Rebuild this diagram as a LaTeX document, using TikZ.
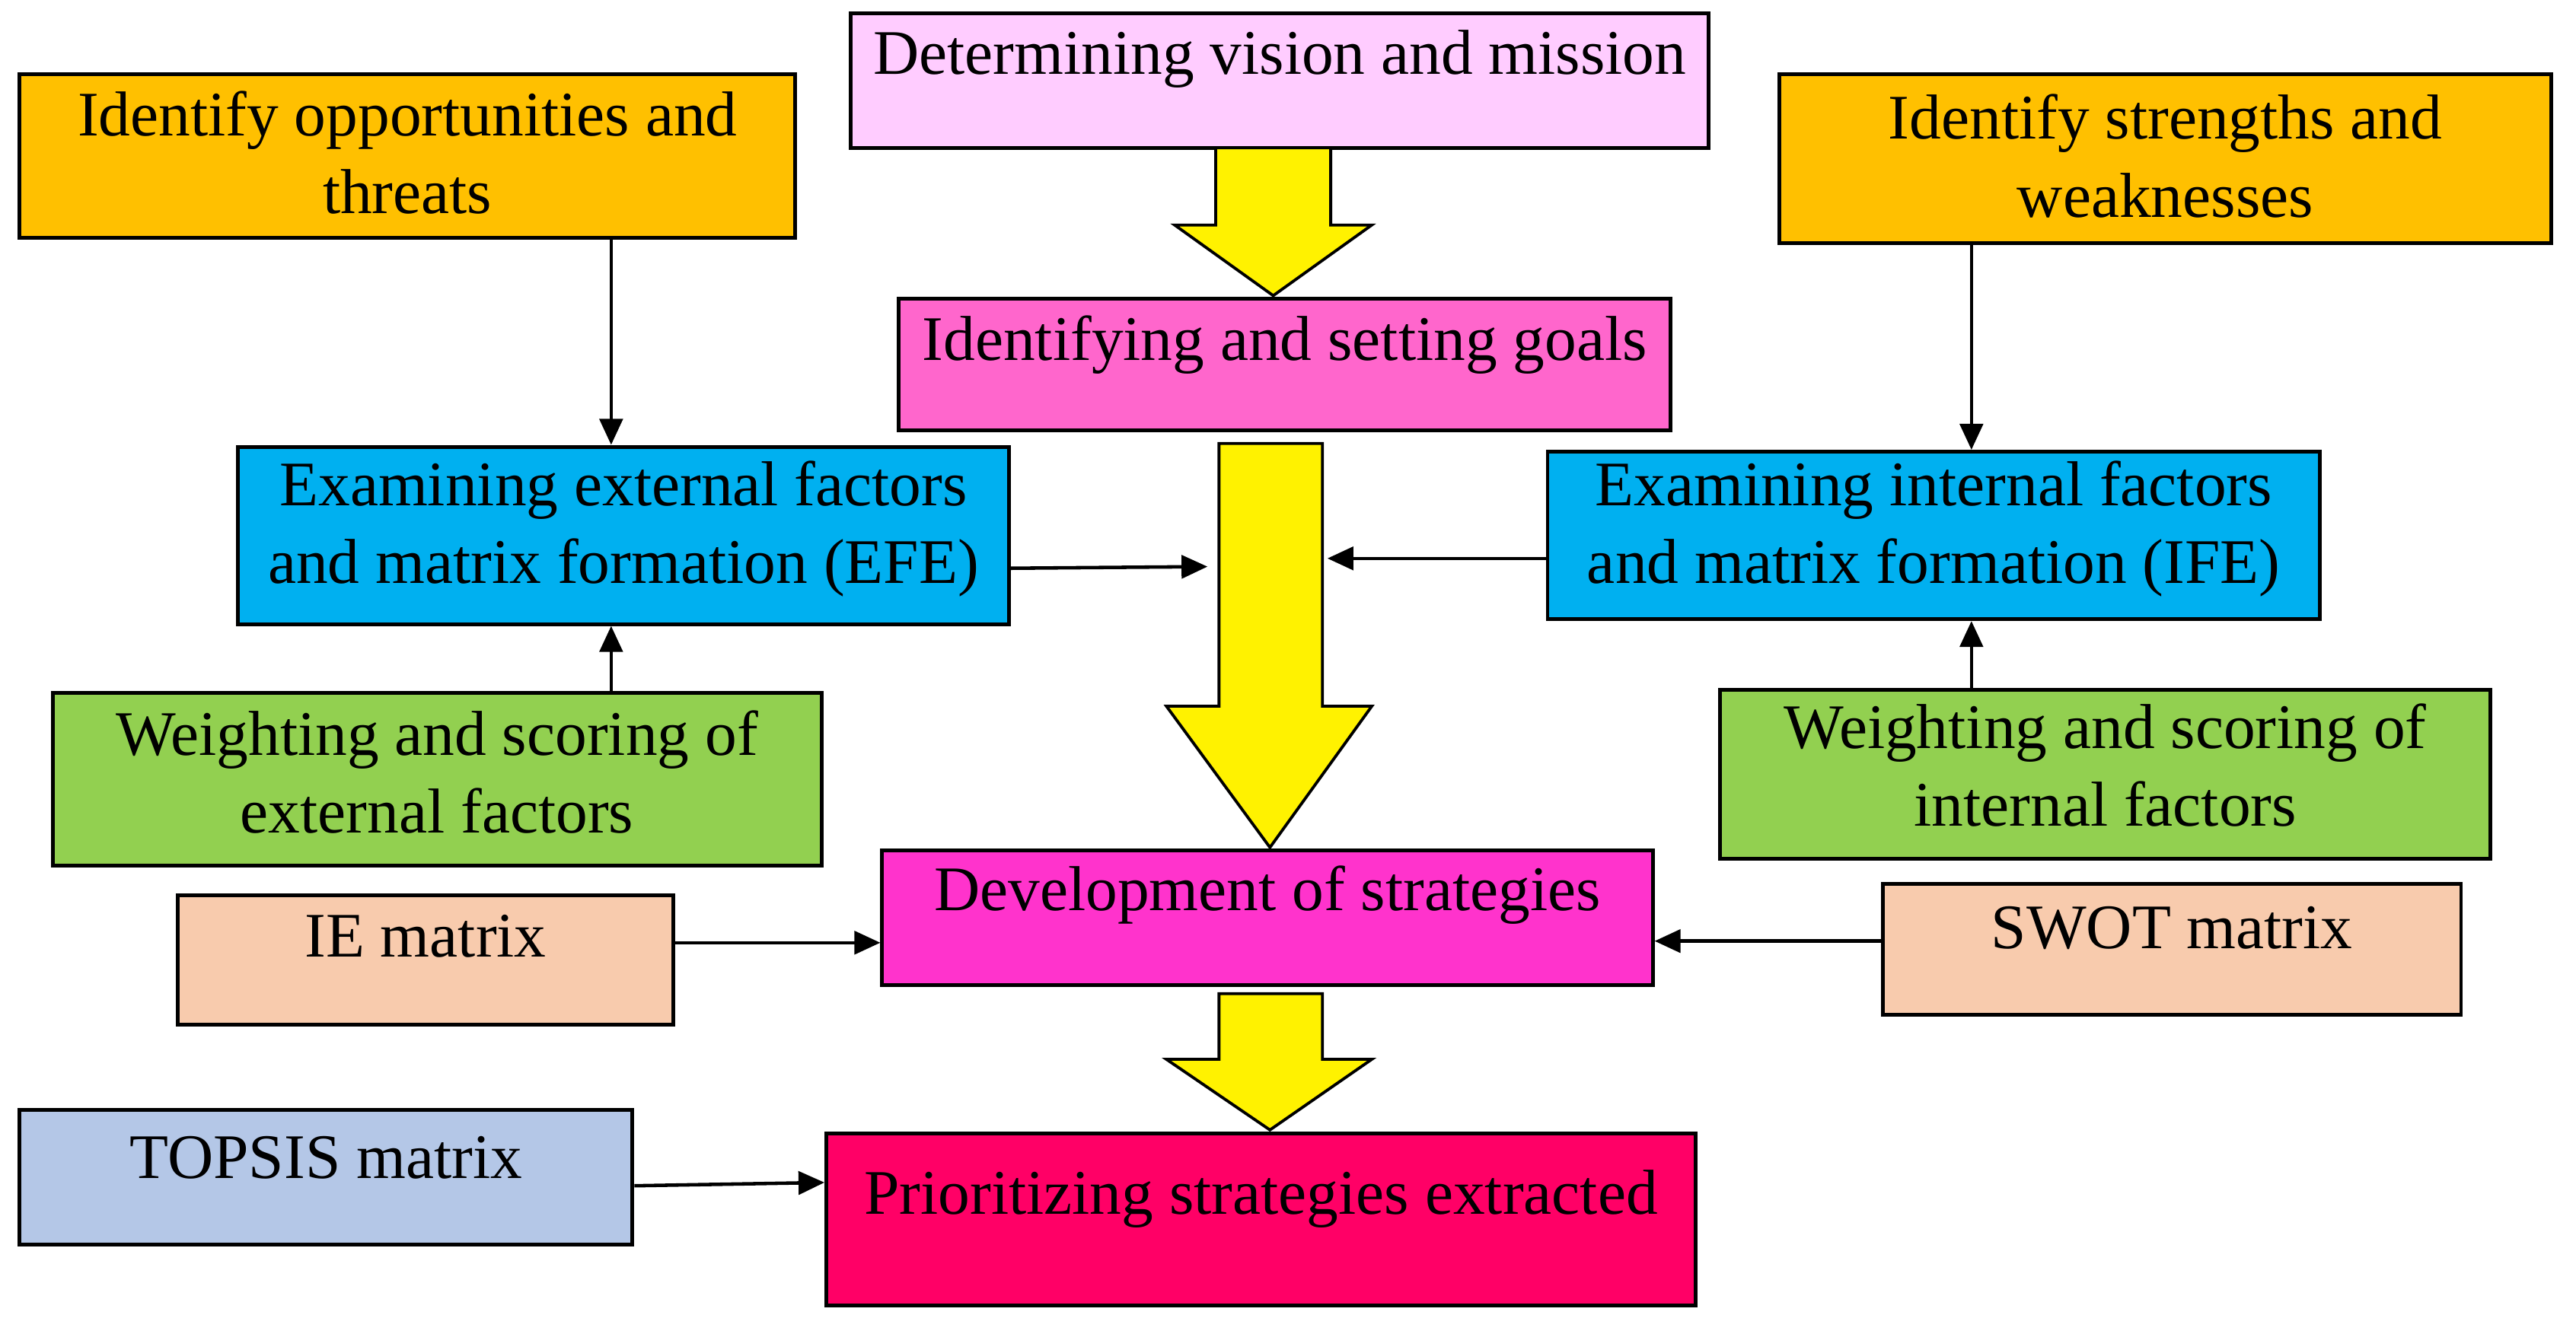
\documentclass[tikz,border=0pt]{standalone}
\usepackage{fontspec}
\setmainfont{Liberation Serif}
\usetikzlibrary{arrows.meta}
\begin{document}
\begin{tikzpicture}[x=0.02cm,y=-0.02cm,
  box/.style={draw,line width=1.3pt,inner sep=0pt},
  txt/.style={align=center,font=\fontsize{22}{27}\selectfont,inner sep=0pt},
  conn/.style={line width=1.2pt,-{Triangle[length=9pt,width=8pt]}},
  yarrow/.style={draw,line width=1pt,fill=yellow}]
\definecolor{cvis}{HTML}{FFCCFF}
\definecolor{corg}{HTML}{FFC000}
\definecolor{cgoal}{HTML}{FF66CC}
\definecolor{cblue}{HTML}{00B0F0}
\definecolor{cgreen}{HTML}{92D050}
\definecolor{cdev}{HTML}{FF33CC}
\definecolor{cpeach}{HTML}{F8CBAD}
\definecolor{ctop}{HTML}{B4C7E7}
\definecolor{cprio}{HTML}{FF0066}
\useasboundingbox (0,0) rectangle (1568,812);
\newcommand{\bx}[8]{\node[box,fill=#6,minimum width={(#3-#1)*0.02cm},minimum height={(#4-#2)*0.02cm}] (#5) at ({(#1+#3)/2},{(#2+#4)/2}) {};
  \node[txt] (#5t) at ({(#1+#3)/2},#8) {#7};}
\bx{518}{8}{1040}{90}{vis}{cvis}{Determining vision and mission}{36}
\bx{12}{45}{484}{145}{opp}{corg}{Identify opportunities and\\threats}{93}
\bx{1083}{45}{1553}{148}{str}{corg}{Identify strengths and\\weaknesses}{95}
\bx{547}{182}{1017}{262}{goal}{cgoal}{Identifying and setting goals}{210}
\bx{145}{272}{614}{380}{efe}{cblue}{Examining external factors\\and matrix formation (EFE)}{322}
\bx{942}{275}{1412}{377}{ife}{cblue}{Examining internal factors\\and matrix formation (IFE)}{322}
\bx{32}{422}{500}{527}{wext}{cgreen}{Weighting and scoring of\\external factors}{470}
\bx{1047}{420}{1516}{523}{wint}{cgreen}{Weighting and scoring of\\internal factors}{466}
\bx{537}{518}{1006}{600}{dev}{cdev}{Development of strategies}{545}
\bx{108}{545}{410}{624}{ie}{cpeach}{IE matrix}{570}
\bx{1146}{538}{1498}{618}{swot}{cpeach}{SWOT matrix}{565}
\bx{12}{676}{385}{758}{top}{ctop}{TOPSIS matrix}{705}
\bx{503}{690}{1032}{795}{prio}{cprio}{Prioritizing strategies extracted}{730}
% yellow arrows
\draw[yarrow] (740,90)--(810,90)--(810,137)--(835,137)--(775,180)--(715,137)--(740,137)--cycle;
\draw[yarrow] (742,270)--(805,270)--(805,430)--(835,430)--(773,516)--(710,430)--(742,430)--cycle;
\draw[yarrow] (742,605)--(805,605)--(805,645)--(835,645)--(773,688)--(710,645)--(742,645)--cycle;
% connectors
\draw[conn] (opp.south -| 372,0) -- (efe.north -| 372,0);
\draw[conn] (str.south -| 1200,0) -- (ife.north -| 1200,0);
\draw[conn] (wext.north -| 372,0) -- (efe.south -| 372,0);
\draw[conn] (wint.north -| 1200,0) -- (ife.south -| 1200,0);
\coordinate (m1) at (735,345);
\coordinate (m2) at (808,340);
\draw[conn] (efe.east |- 0,346) -- (m1);
\draw[conn] (ife.west |- 0,340) -- (m2);
\draw[conn] (ie.east |- 0,574) -- (dev.west |- 0,574);
\draw[conn] (swot.west |- 0,573) -- (dev.east |- 0,573);
\draw[conn] (top.east |- 0,722) -- (prio.west |- 0,720);
\end{tikzpicture}
\end{document}
